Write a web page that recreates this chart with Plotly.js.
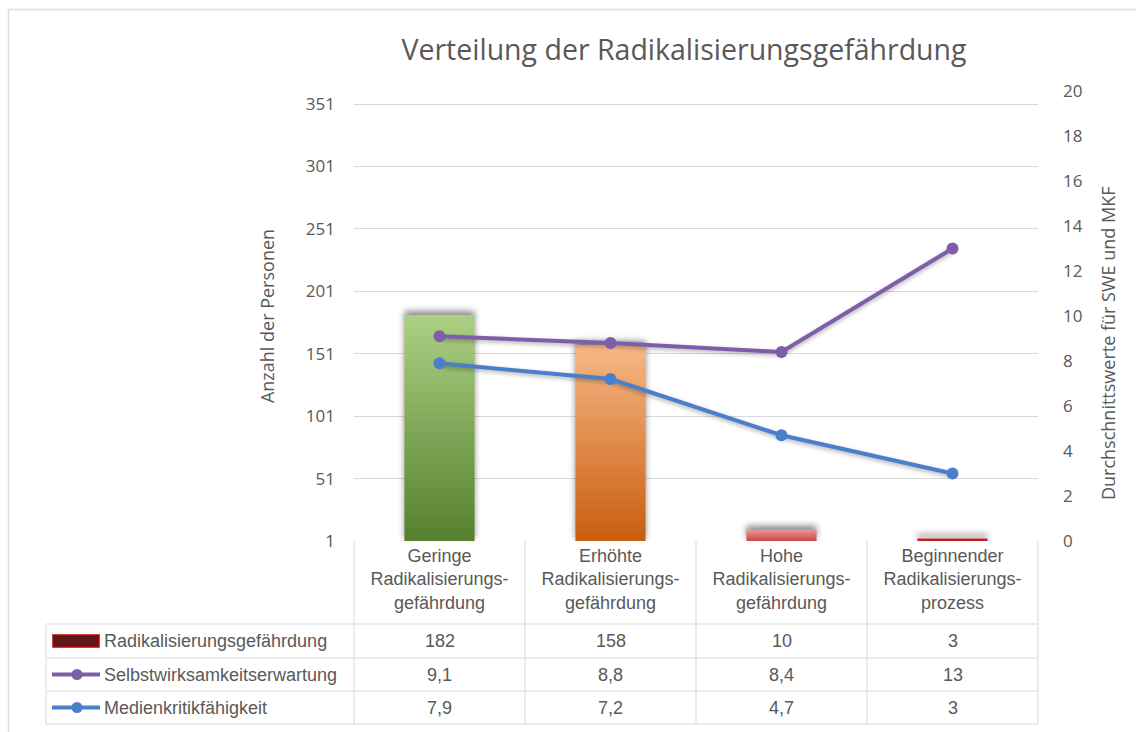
<!DOCTYPE html>
<html>
<head>
<meta charset="utf-8">
<script src="https://cdn.plot.ly/plotly-3.0.1.min.js"></script>
<style>
html,body{margin:0;padding:0;background:#fff;}
#chart{width:1136px;height:732px;}
</style>
</head>
<body>
<div id="chart"></div>
<script>
// ---- data ----
const categoryLabels = [
  "Geringe<br>Radikalisierungs-<br>gefährdung",
  "Erhöhte<br>Radikalisierungs-<br>gefährdung",
  "Hohe<br>Radikalisierungs-<br>gefährdung",
  "Beginnender<br>Radikalisierungs-<br>prozess"
];
const seriesNames = ["Radikalisierungsgefährdung", "Selbstwirksamkeitserwartung", "Medienkritikfähigkeit"];
const personCounts = [182, 158, 10, 3];
const sweValues = [9.1, 8.8, 8.4, 13];
const mkfValues = [7.9, 7.2, 4.7, 3];
const leftTicks = [1, 51, 101, 151, 201, 251, 301, 351];
const rightTicks = [0, 2, 4, 6, 8, 10, 12, 14, 16, 18, 20];
const chartTitle = "Verteilung der Radikalisierungsgefährdung";
const leftAxisTitle = "Anzahl der Personen";
const rightAxisTitle = "Durchschnittswerte für SWE und MKF";

// ---- styling / layout geometry ----
const W = 1136, H = 732;
const PL = 354, PR = 1038, PT = 91, PB = 541;
const px = x => (x - PL) / (PR - PL);
const py = y => (PB - y) / (PB - PT);
const GREY = '#595959', LINE = '#d9d9d9';
const PURPLE = '#7f5ea9', BLUE = '#4a7fcb';
const barColors = ['#7fab5a', '#e8883f', '#d46a6a', '#b51818'];
const fmt = v => String(v).replace('.', ',');

const data = [
  {type: 'bar', x: categoryLabels, y: personCounts, name: seriesNames[0],
   marker: {color: barColors, line: {width: 0}}, width: 0.41, yaxis: 'y', hoverinfo: 'skip'},
  {type: 'scatter', mode: 'lines+markers', x: categoryLabels, y: sweValues, name: seriesNames[1],
   line: {color: PURPLE, width: 4}, marker: {color: PURPLE, size: 12}, yaxis: 'y2', hoverinfo: 'skip'},
  {type: 'scatter', mode: 'lines+markers', x: categoryLabels, y: mkfValues, name: seriesNames[2],
   line: {color: BLUE, width: 4}, marker: {color: BLUE, size: 12}, yaxis: 'y2', hoverinfo: 'skip'}
];

const shapes = [];
const annotations = [];
const hline = (x0, x1, y) => shapes.push({type: 'line', xref: 'paper', yref: 'paper', x0: px(x0), x1: px(x1), y0: py(y), y1: py(y), line: {color: LINE, width: 1}, layer: 'below'});
const vline = (x, y0, y1) => shapes.push({type: 'line', xref: 'paper', yref: 'paper', x0: px(x), x1: px(x), y0: py(y0), y1: py(y1), line: {color: LINE, width: 1}, layer: 'below'});

// outer chart border
shapes.push({type: 'rect', xref: 'paper', yref: 'paper', x0: px(8.5), x1: px(1160), y0: py(9.5), y1: py(760), line: {color: '#dedede', width: 1.5}, layer: 'below'});

// data table grid
const rowLines = [624, 658, 691, 724];
rowLines.forEach(y => hline(46, PR, y));
const colLines = [354, 525, 696, 867, 1038];
colLines.forEach(x => vline(x, PB, 724));
vline(46, 624, 724);

// legend keys inside the table
const rowCenters = [641, 674.5, 707.5];
shapes.push({type: 'rect', xref: 'paper', yref: 'paper', x0: px(53), x1: px(99), y0: py(635), y1: py(647), fillcolor: '#5e1616', line: {color: '#c00000', width: 1.5}});
[[PURPLE, rowCenters[1]], [BLUE, rowCenters[2]]].forEach(([c, y]) => {
  shapes.push({type: 'line', xref: 'paper', yref: 'paper', x0: px(52), x1: px(100), y0: py(y), y1: py(y), line: {color: c, width: 4}});
  shapes.push({type: 'circle', xref: 'paper', yref: 'paper', x0: px(71.5), x1: px(82.5), y0: py(y - 5.5), y1: py(y + 5.5), fillcolor: c, line: {color: c, width: 0}});
});

// row labels and values
const tableRows = [personCounts, sweValues, mkfValues];
const tableFont = {family: 'Liberation Sans, Arial, sans-serif', size: 18, color: GREY};
seriesNames.forEach((name, r) => {
  annotations.push({xref: 'paper', yref: 'paper', x: px(102), y: py(rowCenters[r]), xanchor: 'left', yanchor: 'middle', text: name, showarrow: false, font: tableFont});
  tableRows[r].forEach((v, i) => {
    annotations.push({xref: 'x', yref: 'paper', x: categoryLabels[i], y: py(rowCenters[r]), xanchor: 'center', yanchor: 'middle', text: fmt(v), showarrow: false, font: tableFont});
  });
});

// right axis title
annotations.push({xref: 'paper', yref: 'paper', x: px(1108), y: py(343), xanchor: 'center', yanchor: 'middle', textangle: -90, text: rightAxisTitle, showarrow: false, font: {family: 'Open Sans, sans-serif', size: 18, color: GREY}});

const layout = {
  width: W, height: H,
  margin: {l: PL, r: W - PR, t: PT, b: H - PB, pad: 0},
  paper_bgcolor: '#ffffff', plot_bgcolor: '#ffffff',
  showlegend: false,
  bargap: 0.59,
  title: {text: chartTitle, font: {family: 'Open Sans, sans-serif', size: 28.5, color: GREY},
          xref: 'container', yref: 'container', x: 684 / W, y: 1 - 50 / H, xanchor: 'center', yanchor: 'middle'},
  xaxis: {type: 'category', showgrid: false, zeroline: false, showline: false, ticks: '',
          tickfont: tableFont, ticklabelstandoff: 2, fixedrange: true},
  yaxis: {range: [1, 1 + (PB - PT) / (437 / 350)], tickvals: leftTicks, ticktext: leftTicks.map(String),
          showgrid: true, gridcolor: LINE, gridwidth: 1, zeroline: false, showline: false, ticks: '',
          tickfont: {family: 'Open Sans, sans-serif', size: 17, color: GREY}, ticklabelstandoff: 18,
          title: {text: leftAxisTitle, font: {family: 'Open Sans, sans-serif', size: 18, color: GREY}, standoff: 26}},
  yaxis2: {range: [0, 20], tickvals: rightTicks, overlaying: 'y', side: 'right', showgrid: false,
           zeroline: false, showline: false, ticks: '',
           tickfont: {family: 'Open Sans, sans-serif', size: 17, color: GREY}, ticklabelstandoff: 24},
  shapes: shapes,
  annotations: annotations
};

Plotly.newPlot('chart', data, layout, {staticPlot: true, displayModeBar: false}).then(gd => {
  const ns = 'http://www.w3.org/2000/svg';
  const svg = gd.querySelector('svg.main-svg');
  let defs = svg.querySelector('defs');
  if (!defs) { defs = document.createElementNS(ns, 'defs'); svg.insertBefore(defs, svg.firstChild); }
  const grads = [['#acd083', '#557f2f'], ['#f7b886', '#c85d0d'], ['#e99a9a', '#c43c3c'], ['#d42a2a', '#a30d0d']];
  grads.forEach((g, i) => {
    const lg = document.createElementNS(ns, 'linearGradient');
    lg.setAttribute('id', 'barGrad' + i);
    lg.setAttribute('x1', '0'); lg.setAttribute('y1', '0'); lg.setAttribute('x2', '0'); lg.setAttribute('y2', '1');
    [[0, g[0]], [1, g[1]]].forEach(([o, c]) => {
      const s = document.createElementNS(ns, 'stop');
      s.setAttribute('offset', o); s.setAttribute('stop-color', c);
      lg.appendChild(s);
    });
    defs.appendChild(lg);
  });
  gd.querySelectorAll('.barlayer .trace.bars .point path').forEach((p, i) => {
    p.style.fill = 'url(#barGrad' + i + ')';
    p.style.filter = 'drop-shadow(0px -4px 3px rgba(0,0,0,0.45))';
  });
  gd.querySelectorAll('.scatterlayer .trace .js-line').forEach(p => {
    p.style.filter = 'drop-shadow(0px 2px 2px rgba(0,0,0,0.3))';
  });
});
</script>
</body>
</html>
